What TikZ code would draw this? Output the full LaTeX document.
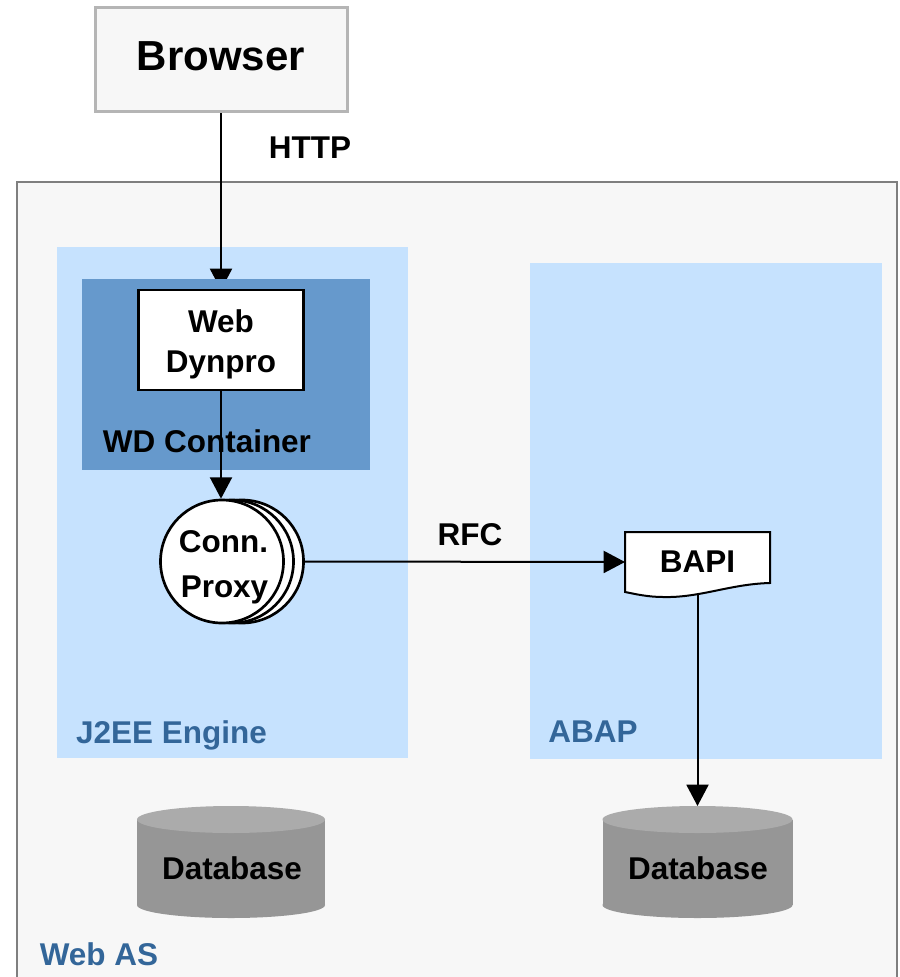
\documentclass[tikz,border=0pt]{standalone}
\usepackage{fontspec}
\setmainfont{Liberation Sans}
\usetikzlibrary{arrows.meta}
\pgfdeclarelayer{back}
\pgfdeclarelayer{mid}
\pgfsetlayers{back,mid,main}
\definecolor{asfill}{HTML}{F7F7F7}
\definecolor{asline}{HTML}{7F7F7F}
\definecolor{brline}{HTML}{B5B5B5}
\definecolor{lightblue}{HTML}{C6E2FE}
\definecolor{darkblue}{HTML}{6699CC}
\definecolor{dbside}{HTML}{969696}
\definecolor{dbtop}{HTML}{ABABAB}
\definecolor{labelblue}{HTML}{336699}
\begin{document}
\begin{tikzpicture}[x=0.75pt,y=-0.75pt,
  txt/.style={font=\fontsize{23.6pt}{28pt}\selectfont\bfseries, inner sep=0pt, anchor=base},
  bigtxt/.style={txt, font=\fontsize{31.5pt}{36pt}\selectfont\bfseries},
  paneltxt/.style={txt, text=labelblue},
  conn/.style={line width=1.5pt, -{Triangle[width=16.5pt,length=16pt]}},
  box/.style={rectangle, inner sep=0pt, outer sep=0pt},
  panel/.style={box, fill=lightblue},
  proxyc/.style={circle, draw=black, line width=2pt, fill=white, minimum size=123*0.75pt, inner sep=0pt}
]
\useasboundingbox (0,0) rectangle (899,977);
\clip (0,0) rectangle (899,977);

\begin{pgfonlayer}{back}
  \node[box, fill=asfill, draw=asline, line width=1.5pt, minimum width=880*0.75pt, minimum height=818*0.75pt] (webas) at (457,591) {};
  \node[panel, minimum width=351*0.75pt, minimum height=511*0.75pt] (j2ee) at (232.5,502.5) {};
  \node[panel, minimum width=352*0.75pt, minimum height=496*0.75pt] (abap) at (706,511) {};
\end{pgfonlayer}

% Browser
\node[box, fill=asfill, draw=brline, line width=2.25pt, minimum width=252*0.75pt, minimum height=104*0.75pt] (browser) at (221,60) {};
\node[bigtxt] (browsertxt) at (221,71) {Browser};
\node[txt] (http) at (310,158) {HTTP};

% WD container
\node[box, fill=darkblue, minimum width=288*0.75pt, minimum height=191*0.75pt] (wdc) at (226,374.5) {};
\node[box, fill=white, draw=black, line width=2pt, minimum width=165*0.75pt, minimum height=100*0.75pt] (wd) at (221,340) {};
\node[txt] (wdt1) at (221,332) {Web};
\node[txt] (wdt2) at (221,372) {Dynpro};
\node[txt] (wdclabel) at (207,452) {WD Container};

% Connection proxy
\node[proxyc] (p3) at (242,561.5) {};
\node[proxyc] (p2) at (232,561.5) {};
\node[proxyc] (proxy) at (222,561.5) {};
\node[txt] (proxyt1) at (223.5,552) {Conn.};
\node[txt] (proxyt2) at (224.5,597) {Proxy};

% BAPI
\node[box, minimum width=145*0.75pt, minimum height=60*0.75pt] (bapi) at (697.5,562) {};
\draw[line width=1.5pt, fill=white] (bapi.north west) -- (bapi.north east) -- (770,583)
  .. controls (730,584) and (700,598) .. (663,597)
  .. controls (648,597) and (635,594) .. (bapi.south west) -- cycle;
\node[txt] (bapit) at (697.5,572) {BAPI};
\node[txt] (rfc) at (470,545) {RFC};

% Databases
\node[box, minimum width=188*0.75pt, minimum height=112*0.75pt] (db1) at (231,862) {};
\fill[dbside] (231,905) ellipse [x radius=94, y radius=13];
\fill[dbside] (137,819.5) rectangle (325,905);
\fill[dbtop] (231,819.5) ellipse [x radius=94, y radius=13.5];
\node[txt] (db1t) at (232,879) {Database};

\node[box, minimum width=190*0.75pt, minimum height=112*0.75pt] (db2) at (697.5,862) {};
\fill[dbside] (697.5,905) ellipse [x radius=95, y radius=13];
\fill[dbside] (602.5,819.5) rectangle (792.5,905);
\fill[dbtop] (697.5,819.5) ellipse [x radius=95, y radius=13.5];
\node[txt] (db2t) at (698,879) {Database};

% Panel labels
\node[paneltxt] (j2eet) at (171.5,743) {J2EE Engine};
\node[paneltxt] (abapt) at (593,742) {ABAP};
\node[paneltxt] (webast) at (99,965) {Web AS};

% Connectors
\begin{pgfonlayer}{mid}
  \draw[conn] (browser.south) -- (wd.north);
\end{pgfonlayer}
\draw[conn] (wd.south) -- (wd.south |- proxy.north);
\draw[conn] (p3.east) -- (bapi.west);
\draw[conn] ([yshift=-1.5pt]bapi.south) -- (db2.north);
\end{tikzpicture}
\end{document}
